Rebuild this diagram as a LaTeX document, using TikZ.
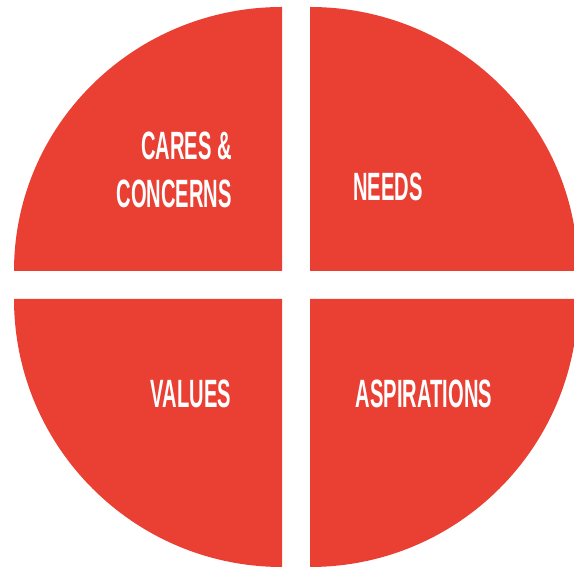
\documentclass[tikz,border=0pt]{standalone}
\usepackage{fontspec}
\newfontfamily\quadfont[FakeStretch=0.51]{Liberation Sans}
\definecolor{quadred}{RGB}{234,63,51}

\begin{document}
\begin{tikzpicture}[x=1pt, y=1pt, quarter/.style={fill=quadred, draw=none}, quadtext/.style={text=white, inner sep=0pt, font=\quadfont\bfseries\fontsize{39.5}{48}\selectfont}]
    \useasboundingbox (0,0) rectangle (574,567);
    % four quarters with white gaps
    \fill[quarter] (282,296) -- (14,296) arc[start angle=180, end angle=90, x radius=268pt, y radius=264pt] -- cycle;
    \fill[quarter] (310,296) -- (310,560) arc[start angle=90, end angle=0, x radius=268pt, y radius=264pt] -- cycle;
    \fill[quarter] (282,268) -- (282,0) arc[start angle=270, end angle=180, x radius=268pt, y radius=268pt] -- cycle;
    \fill[quarter] (310,268) -- (578,268) arc[start angle=0, end angle=-90, x radius=268pt, y radius=268pt] -- cycle;

    \node[quadtext, align=right, anchor=east](cares) at (232,397) {CARES \&\\CONCERNS};
    \node[quadtext](needs) at (388,380) {NEEDS};
    \node[quadtext](values) at (191,173) {VALUES};
    \node[quadtext](aspirations) at (424,173) {ASPIRATIONS};
\end{tikzpicture}
\end{document}
